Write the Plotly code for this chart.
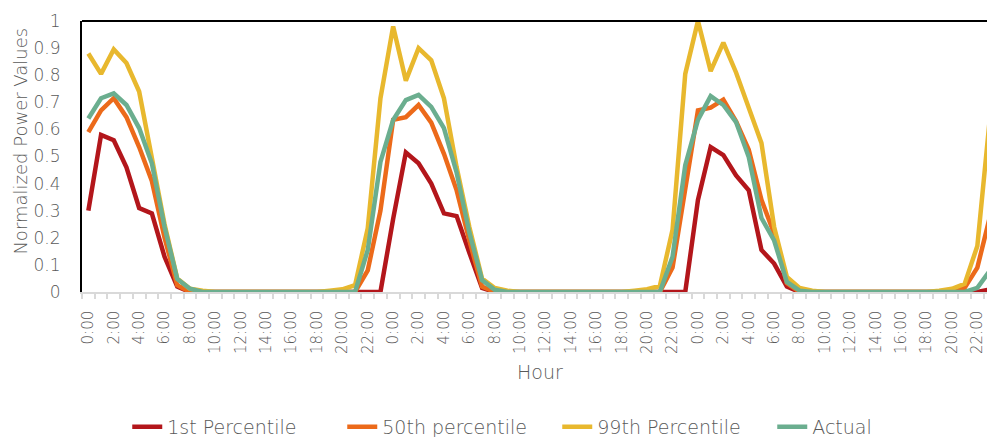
import plotly.graph_objects as go

# ---- data ----
hour_labels = [f"{h}:00" for d in range(3) for h in range(24)]

p1 = [0.30, 0.58, 0.56, 0.46, 0.31, 0.29, 0.13, 0.02] + [0] * 16 + \
     [0.27, 0.515, 0.475, 0.40, 0.29, 0.28, 0.145, 0.015] + [0] * 16 + \
     [0.34, 0.535, 0.505, 0.43, 0.375, 0.155, 0.105, 0.02] + [0] * 15 + [0.01]

p50 = [0.59, 0.67, 0.715, 0.645, 0.535, 0.41, 0.20, 0.025] + [0] * 14 + [0.08, 0.30] + \
      [0.635, 0.645, 0.69, 0.625, 0.51, 0.375, 0.19, 0.02] + [0] * 14 + [0.09, 0.385] + \
      [0.67, 0.68, 0.71, 0.63, 0.525, 0.34, 0.215, 0.033] + [0] * 13 + [0.015, 0.09, 0.28]

p99 = [0.88, 0.805, 0.895, 0.845, 0.74, 0.49, 0.25, 0.05, 0.012, 0.005] + [0] * 9 + \
      [0.005, 0.01, 0.025, 0.235, 0.715] + \
      [0.98, 0.78, 0.90, 0.855, 0.715, 0.46, 0.24, 0.05, 0.015, 0.005] + [0] * 9 + \
      [0.005, 0.01, 0.022, 0.23, 0.805] + \
      [1.0, 0.815, 0.92, 0.81, 0.68, 0.55, 0.24, 0.056, 0.015, 0.005] + [0] * 9 + \
      [0.005, 0.012, 0.03, 0.17, 0.65]

actual = [0.64, 0.715, 0.733, 0.69, 0.605, 0.475, 0.24, 0.048, 0.012] + [0] * 13 + [0.155, 0.48] + \
         [0.635, 0.708, 0.727, 0.683, 0.605, 0.44, 0.22, 0.044, 0.008] + [0] * 13 + [0.13, 0.468] + \
         [0.635, 0.723, 0.69, 0.627, 0.498, 0.273, 0.19, 0.037, 0.005] + [0] * 13 + [0.015, 0.08]

series_names = ["1st Percentile", "50th percentile", "99th Percentile", "Actual"]
series_colors = ["#B3161B", "#EC6A1A", "#E8B82E", "#6BAE8F"]
y_ticks = [0, 0.1, 0.2, 0.3, 0.4, 0.5, 0.6, 0.7, 0.8, 0.9, 1]

x = list(range(len(hour_labels)))
FONT = "DejaVu Sans"
GRAY = "#595959"

fig = go.Figure()
for name, vals, col in zip(series_names, [p1, p50, p99, actual], series_colors):
    fig.add_trace(go.Scatter(x=x, y=vals, name=name, mode="lines",
                             line=dict(color=col, width=4.5)))

fig.update_layout(
    width=987, height=437,
    margin=dict(l=82, r=0, t=21, b=145, autoexpand=False),
    plot_bgcolor="white", paper_bgcolor="white",
    font=dict(family=FONT, color=GRAY, size=15),
    showlegend=True,
    legend=dict(orientation="h", x=0.05, xanchor="left", y=-0.498, yanchor="middle",
                entrywidth=170, entrywidthmode="pixels",
                font=dict(family=FONT, size=19, color=GRAY, weight=200)),
    xaxis=dict(range=[-0.5, 70.76], showgrid=False, zeroline=False,
               showline=True, linecolor="#D9D9D9", linewidth=1.5,
               tickmode="array", tickvals=x[::2], ticktext=hour_labels[::2],
               tickangle=-90, ticks="", ticklabelstandoff=11,
               tickfont=dict(family=FONT, size=15, color=GRAY, weight=200),
               minor=dict(ticks="outside", tickvals=[v - 0.5 for v in range(73)],
                          ticklen=5, tickcolor="#D9D9D9", tickwidth=1.5, showgrid=False)),
    yaxis=dict(range=[0, 1], showgrid=False, zeroline=False,
               showline=True, linecolor="black", linewidth=2,
               tickmode="array", tickvals=y_ticks, ticktext=[f"{v:g}" for v in y_ticks],
               ticks="", ticklabelstandoff=16,
               tickfont=dict(family=FONT, size=17, color=GRAY, weight=200)),
    shapes=[dict(type="line", xref="paper", yref="paper", x0=0, x1=1, y0=1, y1=1,
                 line=dict(color="black", width=2))],
    annotations=[
        dict(text="Normalized Power Values", xref="paper", yref="paper",
             x=-0.0674, y=0.555, showarrow=False, textangle=-90,
             xanchor="center", yanchor="middle",
             font=dict(family=FONT, size=18, color=GRAY, weight=200)),
        dict(text="Hour", xref="paper", yref="paper",
             x=0.506, y=-0.295, showarrow=False, xanchor="center", yanchor="middle",
             font=dict(family=FONT, size=19, color=GRAY, weight=200)),
    ],
)

fig.write_html("out.html")
